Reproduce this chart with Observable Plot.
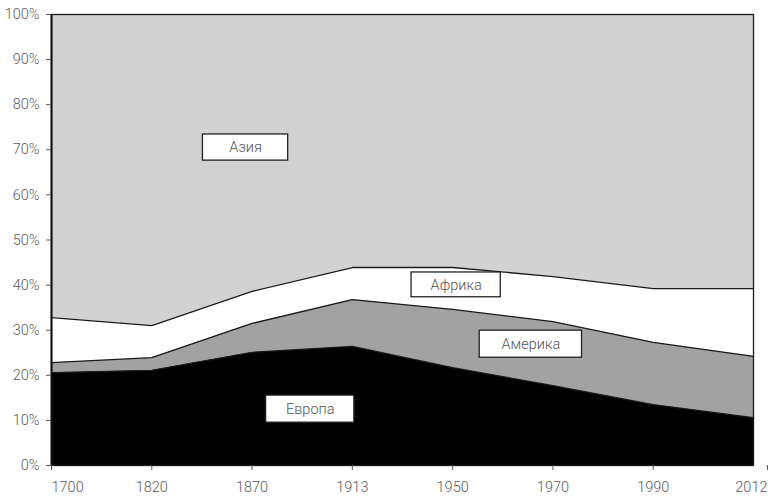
<!DOCTYPE html>
<html>
<head>
<meta charset="utf-8">
<script src="https://cdn.jsdelivr.net/npm/d3@7"></script>
<script src="https://cdn.jsdelivr.net/npm/@observablehq/plot@0.6"></script>
<style>
  html, body { margin: 0; padding: 0; background: #fff; }
  #chart svg { display: block; }
</style>
</head>
<body>
<div id="chart"></div>
<script>
const years = ["1700", "1820", "1870", "1913", "1950", "1970", "1990", "2012"];
const regions = ["Европа", "Америка", "Африка", "Азия"];
const europe  = [20.6, 21.1, 25.1, 26.4, 21.7, 17.7, 13.5, 10.6];
const america = [2.2, 2.8, 6.4, 10.4, 12.9, 14.2, 13.8, 13.6];
const africa  = [10.0, 7.1, 7.1, 7.1, 9.3, 10.0, 11.9, 15.0];
const asia    = [67.2, 69.0, 61.4, 56.1, 56.1, 58.1, 60.8, 60.8];
const fills = ["#000000", "#a2a2a2", "#ffffff", "#d2d2d2"];

const series = [europe, america, africa, asia];
const rows = [];
regions.forEach((r, k) => series[k].forEach((v, i) => rows.push({i, region: r, value: v})));

const labels = [
  {text: "Азия",    x1: 1.51, x2: 2.36, y1: 67.6, y2: 73.4},
  {text: "Африка",  x1: 3.59, x2: 4.48, y1: 37.3, y2: 42.8},
  {text: "Америка", x1: 4.27, x2: 5.29, y1: 23.9, y2: 29.9},
  {text: "Европа",  x1: 2.14, x2: 3.02, y1: 9.5,  y2: 15.5}
];

const tickIdx = d3.range(years.length);
const last = years.length - 1;
const chart = Plot.plot({
  width: 768,
  height: 496,
  marginLeft: 51,
  marginRight: 15,
  marginTop: 14,
  marginBottom: 31,
  style: {fontFamily: "Roboto, sans-serif", fontSize: "14px", color: "#5a5a5a", fontWeight: 300},
  x: {type: "linear", domain: [0, last], label: null},
  y: {domain: [0, 100], label: null},
  color: {domain: regions, range: fills},
  marks: [
    Plot.areaY(rows, Plot.stackY({x: "i", y: "value", z: "region", fill: "region", order: regions})),
    Plot.lineY(rows.filter(d => d.region !== "Азия"),
      Plot.stackY2({x: "i", y: "value", z: "region", order: regions, stroke: "#1a1a1a", strokeWidth: 1.3})),
    Plot.rect(labels, {x1: "x1", x2: "x2", y1: "y1", y2: "y2", fill: "#fff", stroke: "#222", strokeWidth: 1.3}),
    Plot.text(labels, {x: d => (d.x1 + d.x2) / 2, y: d => (d.y1 + d.y2) / 2, text: "text",
      fill: "#555", fontSize: 14.5, fontWeight: 300}),
    Plot.frame({stroke: "#1a1a1a", strokeWidth: 1.3}),
    Plot.ruleX([0], {stroke: "#111", strokeWidth: 2}),
    Plot.axisY({ticks: d3.range(0, 101, 10), tickFormat: (d) => d + "%", tickSize: 5, tickPadding: 7,
      fontSize: 14.5, label: null}),
    Plot.axisX({ticks: tickIdx.slice(1, last), tickFormat: (i) => years[i], tickSize: 5, tickPadding: 11,
      fontSize: 14.5, label: null}),
    Plot.axisX({ticks: [0], tickFormat: (i) => years[i], tickSize: 5, tickPadding: 11,
      fontSize: 14.5, textAnchor: "start", label: null}),
    Plot.axisX({ticks: [last], tickFormat: (i) => years[i], tickSize: 5, tickPadding: 11,
      fontSize: 14.5, textAnchor: "end", dx: 14, label: null})
  ]
});
document.getElementById("chart").appendChild(chart);
</script>
</body>
</html>
